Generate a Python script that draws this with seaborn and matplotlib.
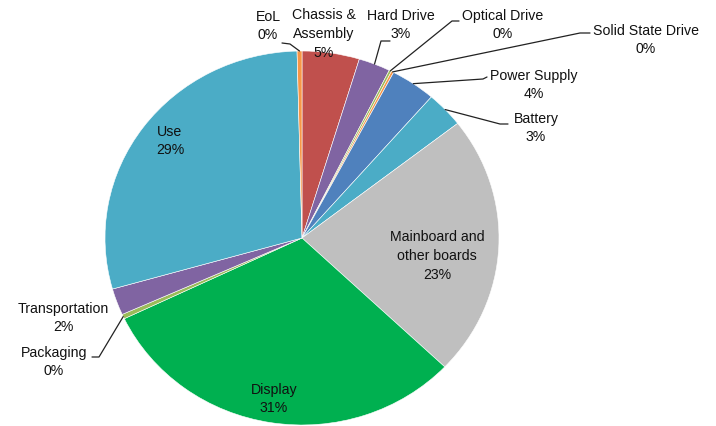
import matplotlib
matplotlib.use("Agg")
import matplotlib.pyplot as plt
import seaborn as sns
import numpy as np

# slices, clockwise from 12 o'clock
categories = ["Chassis &\nAssembly", "Hard Drive", "Optical Drive", "Solid State Drive",
              "Power Supply", "Battery", "Mainboard and\nother boards", "Display",
              "Packaging", "Transportation", "Use", "EoL"]
shares = [4.7, 2.6, 0.2, 0.2, 3.7, 3.1, 22.6, 30.8, 0.4, 2.3, 29.0, 0.4]
colors = ["#C0504D", "#8064A2", "#9BBB59", "#F79646", "#4F81BD", "#4BACC6",
          "#BFBFBF", "#00B050", "#9BBB59", "#8064A2", "#4BACC6", "#F79646"]

sns.set_theme(style="white")
plt.rcParams["font.family"] = ["Liberation Sans", "DejaVu Sans"]

W, H = 716, 426
CX, CY = 302, 238     # pie centre in pixels
RX, RY = 197, 187     # the original is slightly stretched sideways


def px(x, y):
    return (x - CX) / RX, (CY - y) / RY


# label centre (pixels) and leader bend points (pixels) per slice
label_pos = {
    "Chassis &\nAssembly": ((324, 34), None),
    "Hard Drive": ((401, 25), [(381, 41), (390, 41)]),
    "Optical Drive": ((503, 25), [(452, 21), (459, 21)]),
    "Solid State Drive": ((646, 40), [(580, 33), (590, 33)]),
    "Power Supply": ((534, 85), [(483, 79), (487, 77)]),
    "Battery": ((536, 128), [(500, 124), (508, 124)]),
    "Mainboard and\nother boards": ((437, 256), None),
    "Display": ((274, 399), None),
    "Packaging": ((54, 362), [(99, 357), (92, 357)]),
    "Transportation": ((63, 318), None),
    "Use": ((170, 141), None),
    "EoL": ((268, 26), [(290, 44), (282, 43)]),
}

fig = plt.figure(figsize=(W / 100, H / 100), dpi=100)
ax = fig.add_axes([0, 0, 1, 1])

wedges, _ = ax.pie(shares, colors=colors, startangle=90, counterclock=False,
                   radius=1, center=(0, 0),
                   wedgeprops=dict(edgecolor="white", linewidth=0.4))
ax.set_aspect("auto")
ax.set_xlim(-CX / RX, (W - CX) / RX)
ax.set_ylim(-(H - CY) / RY, CY / RY)
ax.axis("off")

total = sum(shares)
for name, val, w in zip(categories, shares, wedges):
    (tx, ty), bends = label_pos[name]
    pct = val / total * 100
    x, y = px(tx, ty)
    ax.text(x, y, f"{name}\n{pct:.0f}%", ha="center", va="center",
            fontsize=10.2, color="#111111", linespacing=1.45)
    if bends:
        mid = np.deg2rad((w.theta1 + w.theta2) / 2)
        xs = [np.cos(mid)] + [px(bx, by)[0] for bx, by in bends]
        ys = [np.sin(mid)] + [px(bx, by)[1] for bx, by in bends]
        ax.plot(xs, ys, color="#222222", lw=0.9)

fig.savefig("out.png", dpi=100, facecolor="white")
